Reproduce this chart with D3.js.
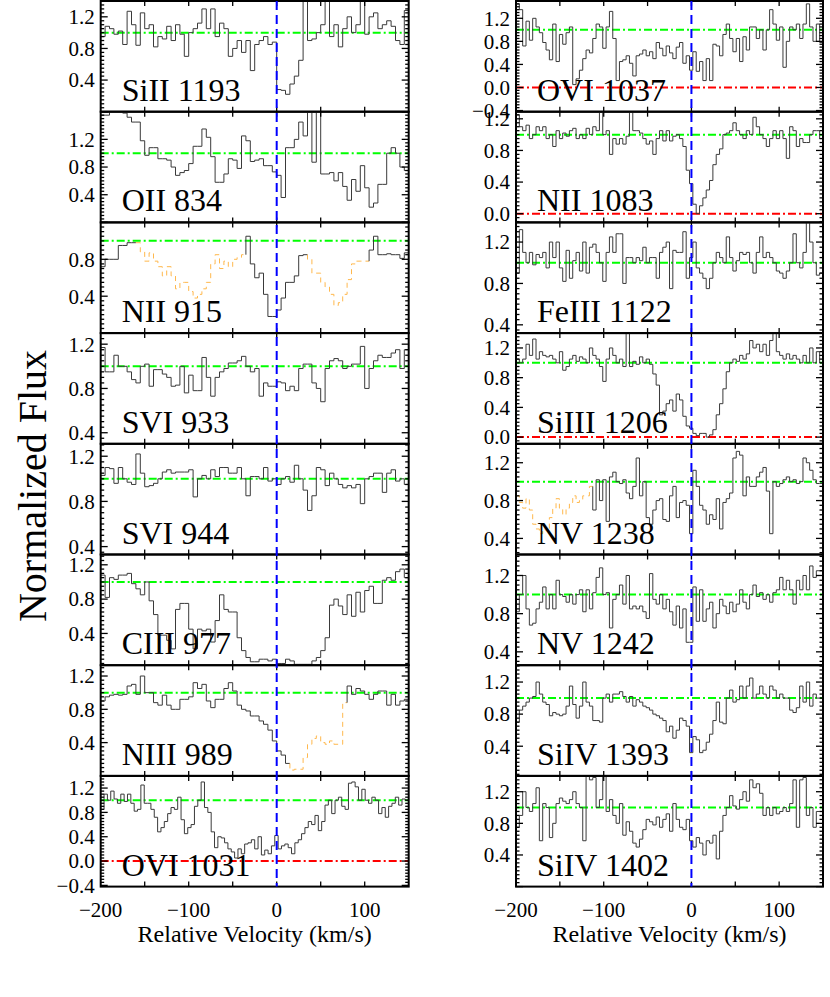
<!DOCTYPE html>
<html>
<head>
<meta charset="utf-8">
<script src="https://cdn.jsdelivr.net/npm/d3@7"></script>
<style>
  body { margin: 0; background: #fff; }
  svg text { font-family: 'Liberation Serif', 'Times New Roman', serif; fill: #000; }
</style>
</head>
<body>
<div id="chart"></div>
<script>

// ---------------------------//
//       DATA                 //
// ---------------------------//

// velocity axis (km/s)
const velDomain = [-200, 150];
const velTicks = [-150, -100, -50, 0, 50, 100];
const velLabels = [-200, -100, 0, 100];

// normalized flux, bins spread evenly over velDomain
const siII1193 = [0.95,1.08,1.05,0.98,1.02,0.85,1.27,1.1,0.84,1.25,
  1.05,1.1,0.82,0.95,0.92,1.08,0.9,1.1,0.98,0.7,
  1.0,1.05,1.12,1.3,1.05,1.3,0.95,1.12,1.05,0.7,
  0.8,0.9,0.75,0.9,0.52,0.85,0.9,0.95,0.85,0.88,
  0.28,0.27,0.22,0.35,0.45,0.65,1.45,0.9,0.92,1.0,
  1.1,1.45,0.95,1.1,0.82,1.05,1.2,1.0,1.1,1.45,
  0.98,1.2,1.25,1.05,1.1,1.15,1.08,0.9,0.85,1.28];
const oII834 = [1.55,1.55,1.6,1.6,1.6,1.58,1.52,1.45,1.45,1.18,
  0.97,1.08,1.08,0.92,0.92,0.9,0.8,0.68,0.72,0.75,
  0.85,1.1,1.1,1.35,1.23,0.95,0.58,0.58,0.7,0.92,
  0.9,0.78,1.25,1.18,0.88,0.9,0.92,0.82,0.82,0.73,
  0.68,0.36,1.08,1.08,1.2,1.45,1.25,1.65,0.87,1.65,
  0.7,0.7,0.72,0.6,0.72,0.52,0.32,0.62,0.45,0.82,
  0.5,0.22,0.28,0.55,0.55,1.0,1.08,1.0,0.8,0.75];
const nII915 = [0.72,0.8,0.8,0.8,0.95,0.95,0.98,0.98,0.98,0.88,
  0.78,0.87,0.78,0.72,0.62,0.72,0.62,0.48,0.55,0.55,
  0.45,0.38,0.42,0.48,0.55,0.75,0.85,0.7,0.78,0.72,
  0.8,0.82,0.85,1.05,0.75,0.6,0.65,0.42,0.18,0.18,
  0.25,0.38,0.55,0.55,0.62,0.84,0.85,0.8,0.65,0.65,
  0.55,0.5,0.42,0.3,0.33,0.42,0.58,0.75,0.78,0.78,
  0.78,0.9,1.05,0.85,0.85,0.86,0.85,0.85,0.81,0.87];
const sVI933 = [1.17,0.95,0.95,1.1,1.0,1.0,0.95,0.88,0.85,1.0,
  1.02,0.82,0.97,0.97,0.93,0.9,0.82,0.83,1.0,0.76,
  0.92,0.78,0.78,1.08,0.9,0.73,0.9,0.95,0.98,1.03,
  1.03,1.05,1.09,1.0,0.95,0.98,0.73,0.85,0.82,0.82,
  0.86,0.85,0.78,0.82,0.78,0.98,1.02,1.02,0.85,0.8,
  0.68,0.98,1.05,1.07,1.05,0.98,1.0,1.02,1.02,1.18,
  0.8,0.98,1.05,1.1,1.08,1.08,1.12,1.15,0.98,1.15];
const sVI944 = [1.03,1.1,1.09,0.96,1.1,1.0,0.97,0.95,1.22,1.05,
  0.93,0.94,0.96,1.0,1.06,1.08,1.05,1.06,1.06,1.06,
  1.08,0.84,1.0,1.03,1.0,1.08,1.02,1.1,1.1,1.05,
  1.05,1.1,1.0,0.85,1.02,1.02,1.0,1.1,0.98,1.0,
  0.95,1.0,1.02,0.97,1.12,1.0,0.9,0.72,0.85,1.1,
  1.08,0.94,1.05,1.0,0.95,0.92,0.94,0.92,0.95,0.78,
  1.0,1.02,1.05,1.05,0.88,1.05,1.08,0.98,1.0,0.95];
const cIII977 = [1.08,0.82,1.05,1.03,1.08,1.08,1.1,0.98,0.92,0.85,
  1.0,0.78,0.62,0.38,0.38,0.32,0.22,0.68,0.75,0.75,
  0.45,0.22,0.45,0.43,0.45,0.3,0.55,0.85,0.68,0.65,
  0.65,0.35,0.2,0.12,0.07,0.07,0.1,0.1,0.08,0.1,
  0.05,0.05,0.1,0.08,0.04,0.04,0.04,0.04,0.08,0.12,
  0.2,0.35,0.73,0.8,0.72,0.62,0.85,0.6,0.88,0.65,
  0.9,0.95,0.75,0.75,1.02,1.05,1.02,1.12,1.15,1.05];
const nIII989 = [0.9,0.95,0.97,0.98,0.97,0.98,1.08,1.1,0.98,1.2,
  1.0,1.0,0.88,0.85,0.97,0.85,0.8,0.8,0.92,0.92,
  0.95,1.12,1.05,1.1,0.9,0.82,0.92,0.92,1.05,1.12,
  1.02,0.85,0.8,0.78,0.72,0.72,0.66,0.62,0.55,0.42,
  0.3,0.25,0.15,0.07,0.08,0.08,0.22,0.38,0.45,0.48,
  0.4,0.38,0.42,0.38,0.38,0.88,1.08,0.98,1.05,1.02,
  0.98,0.92,0.98,1.02,1.02,0.85,0.98,0.85,0.9,0.92];
const oVI1031 = [0.85,1.1,1.0,1.15,1.02,0.95,1.1,0.98,1.1,0.95,
  0.82,0.85,1.25,0.95,0.95,0.85,0.72,0.48,0.55,0.65,
  0.78,0.88,0.85,1.05,0.68,0.45,0.55,0.6,0.9,1.0,
  1.3,0.88,0.8,0.48,0.22,0.4,0.38,0.3,0.2,0.15,
  0.05,0.2,0.12,0.28,0.3,0.35,0.2,0.4,0.1,0.18,
  0.12,0.25,0.42,0.2,0.25,0.28,0.22,0.12,0.3,0.35,
  0.45,0.55,0.65,0.6,0.75,0.5,0.65,0.92,1.0,0.78,
  1.0,1.05,0.9,0.85,1.28,1.3,1.22,1.0,1.18,1.0,
  0.95,1.05,1.0,0.78,0.88,0.72,0.9,0.95,1.05,0.92,
  1.02,1.0];
const oVI1037 = [1.45,1.35,0.72,1.15,0.82,1.2,1.05,0.95,0.78,0.65,
  0.48,1.1,0.45,0.92,0.75,0.95,1.05,0.05,0.15,0.3,
  0.5,0.65,0.6,0.85,1.1,1.05,0.68,1.05,1.32,0.85,
  0.12,0.45,0.48,0.55,0.42,0.2,0.55,0.58,0.65,0.55,
  0.62,0.5,0.78,0.68,0.55,0.72,0.6,0.5,0.7,0.78,
  0.42,0.55,0.3,0.62,0.28,0.45,0.12,0.5,0.12,0.75,
  0.72,0.55,0.92,1.1,0.85,0.62,0.85,0.45,0.88,0.65,
  1.05,1.05,0.85,1.0,0.65,1.0,1.35,1.1,0.82,1.05,
  0.35,0.8,1.05,1.0,1.1,0.85,1.1,1.45,1.05,0.8,
  1.1,0.78];
const nII1083 = [1.25,1.1,1.05,1.12,0.95,1.0,1.1,1.05,1.1,0.95,
  1.0,0.85,1.05,0.95,1.02,0.98,1.05,1.08,0.95,1.0,
  0.95,1.08,1.0,1.1,1.05,1.28,1.0,1.05,0.75,0.95,
  0.88,0.95,0.88,0.98,1.32,1.05,1.05,1.02,0.95,0.88,
  0.92,0.75,0.95,1.05,0.92,1.05,0.92,0.98,1.0,0.95,
  0.85,0.55,0.38,0.12,0.0,0.1,0.2,0.3,0.42,0.62,
  0.75,0.82,1.0,1.02,1.05,1.15,1.05,1.0,0.95,1.05,
  1.0,1.22,1.1,1.0,0.95,0.85,0.95,1.05,0.95,1.05,
  0.95,0.7,1.1,1.05,0.85,0.95,0.9,0.9,1.0,1.05,
  1.05,0.95];
const feIII1122 = [0.9,1.32,1.1,1.0,1.1,0.98,1.08,1.05,1.1,0.95,
  1.2,1.05,1.2,0.95,0.82,1.12,0.85,1.02,1.1,0.92,
  1.2,0.9,1.15,1.18,1.1,1.0,0.82,1.1,1.25,1.1,
  1.28,1.28,0.8,1.05,1.05,1.0,1.05,1.02,1.15,1.0,
  1.05,1.05,0.85,1.1,1.15,1.2,0.75,1.12,1.1,1.1,
  1.3,0.85,1.05,1.2,0.95,0.9,0.85,0.75,0.85,1.0,
  1.1,1.05,1.0,1.25,1.05,0.92,1.02,1.1,1.08,1.1,
  1.0,0.9,1.1,1.25,1.05,1.1,1.05,1.0,0.92,0.9,
  0.85,0.92,1.0,1.28,1.0,0.95,1.1,1.45,1.2,1.0,
  0.88,0.9];
const siIII1206 = [1.05,1.0,1.05,1.25,1.1,1.32,1.05,1.15,1.1,1.08,
  1.1,1.05,1.0,1.15,0.9,0.95,1.05,1.1,1.02,1.08,
  1.05,1.0,1.2,1.1,1.05,0.95,0.75,1.05,1.2,1.1,
  1.0,1.05,0.95,1.45,0.95,1.02,0.98,1.08,1.0,1.05,
  0.98,0.85,0.7,0.3,0.35,0.45,0.5,0.35,0.58,0.5,
  0.28,0.15,0.12,0.05,0.02,0.05,0.05,0.0,0.03,0.1,
  0.3,0.45,0.65,0.88,1.0,1.05,1.02,1.1,1.05,1.12,
  1.3,1.2,1.25,1.15,1.25,1.1,1.3,1.45,1.15,1.1,
  1.05,1.12,1.05,1.1,1.05,1.0,1.1,1.0,1.2,1.0,
  1.15,1.0];
const nV1238 = [0.85,0.78,0.72,0.82,0.7,0.55,0.5,0.45,0.5,0.48,
  0.62,0.72,0.82,0.72,0.65,0.72,0.78,0.85,0.78,0.8,
  0.85,0.85,0.95,0.7,1.02,0.8,1.02,0.58,1.05,1.1,
  1.0,0.98,1.02,0.88,0.82,0.95,1.25,0.85,1.0,0.62,
  0.55,0.7,0.8,0.82,0.6,0.58,0.85,0.95,0.62,0.78,
  0.8,0.75,0.45,1.12,0.95,0.75,0.7,0.55,0.65,0.6,
  0.82,0.5,0.78,0.82,0.88,1.25,1.32,1.28,0.85,1.05,
  0.95,0.95,1.05,1.1,1.15,0.9,0.45,1.0,0.95,0.98,
  1.02,1.05,1.0,1.02,0.98,1.0,1.25,1.2,1.12,1.02,
  0.98,0.98];
const nV1242 = [0.82,1.0,1.2,0.85,0.68,0.7,0.85,0.92,1.08,0.85,
  1.0,0.85,1.15,1.0,0.98,0.92,1.0,0.9,1.0,1.05,
  0.82,1.05,0.85,1.02,1.18,1.28,1.0,1.02,0.65,0.95,
  1.0,1.1,0.9,1.2,0.85,0.88,0.85,0.88,0.82,0.75,
  1.22,0.95,0.9,1.0,0.85,0.95,0.82,0.68,0.88,0.65,
  0.85,0.5,0.5,1.08,0.72,1.05,0.72,0.85,0.92,0.65,
  0.8,0.95,0.88,0.8,0.92,0.82,0.9,1.05,0.92,0.85,
  1.0,1.1,0.98,1.02,0.95,1.0,0.92,1.02,1.05,1.18,
  1.05,1.15,1.05,0.9,1.15,1.05,1.2,1.05,1.3,1.18,
  1.25,1.25];
const siIV1393 = [0.7,0.85,0.9,0.95,1.0,1.02,1.2,1.05,0.95,0.92,
  0.78,0.82,0.8,0.78,0.8,0.9,1.15,0.92,0.75,0.9,
  1.2,0.95,0.9,0.72,0.72,0.7,1.0,1.05,0.95,1.05,
  1.05,1.08,1.02,0.95,1.02,0.9,0.98,0.95,0.9,0.88,
  0.85,0.8,0.78,0.75,0.72,0.58,0.65,0.5,0.6,0.75,
  0.72,0.65,0.32,0.52,0.48,0.32,0.35,0.45,0.55,0.72,
  0.95,0.7,0.68,1.0,1.1,0.95,0.98,1.15,1.0,1.15,
  1.25,1.0,1.05,1.15,1.05,1.0,1.15,1.1,1.0,1.05,
  1.0,1.0,0.85,0.82,0.88,1.15,0.95,1.2,0.9,1.05,
  1.0,1.0];
const siIV1402 = [0.75,0.9,1.2,1.0,0.95,1.05,1.25,0.58,1.05,1.0,
  0.62,0.8,1.05,1.12,1.08,1.05,1.1,1.2,1.05,1.0,
  0.58,1.4,1.35,1.38,1.0,1.1,1.45,0.95,1.1,0.9,
  0.8,1.05,0.65,0.82,0.7,0.55,0.5,0.6,0.72,0.85,
  0.82,0.78,0.88,0.75,0.85,0.92,0.7,1.05,0.85,0.75,
  0.72,0.85,0.58,0.5,0.62,0.55,0.4,0.58,0.55,0.65,
  0.35,0.7,0.9,1.0,1.15,1.02,0.98,1.1,1.2,1.08,
  1.35,1.25,1.3,1.18,0.9,1.0,0.9,1.0,0.92,0.95,
  1.0,0.95,1.05,1.35,0.75,1.35,1.38,0.9,1.0,0.75,
  0.95,0.95];

// panel names, top to bottom
const leftNames = ["SiII 1193", "OII 834", "NII 915", "SVI 933", "SVI 944", "CIII 977", "NIII 989", "OVI 1031"];
const rightNames = ["OVI 1037", "NII 1083", "FeIII 1122", "SiIII 1206", "NV 1238", "NV 1242", "SiIV 1393", "SiIV 1402"];

const leftSpectra = [siII1193, oII834, nII915, sVI933, sVI944, cIII977, nIII989, oVI1031];
const rightSpectra = [oVI1037, nII1083, feIII1122, siIII1206, nV1238, nV1242, siIV1393, siIV1402];

// y ranges of each panel
const leftRanges = [[0, 1.4], [0, 1.6], [0, 1.2], [0.3, 1.3], [0.33, 1.31], [0.03, 1.32], [0, 1.33], [-0.42, 1.4]];
const rightRanges = [[-0.42, 1.5], [-0.11, 1.29], [0.32, 1.39], [-0.09, 1.4], [0.23, 1.4], [0.26, 1.42], [0.03, 1.41], [0, 1.4]];

// velocity intervals blended with other lines (drawn dashed orange)
const leftBlends = [[], [], [[-160, -35], [35, 105]], [], [], [], [[15, 80]], []];
const rightBlends = [[], [], [], [], [[-200, -112]], [], [], []];

// ---------------------------//
//       LAYOUT               //
// ---------------------------//

const width = 830, height = 997;
const serif = "'Liberation Serif', 'Times New Roman', Times, serif";
const plotTop = 1;
const panelH = 110.7;
const nPanels = 8;

const columns = [
  {x0: 100.7, x1: 408.7, names: leftNames, spectra: leftSpectra, ranges: leftRanges, blends: leftBlends},
  {x0: 516, x1: 823, names: rightNames, spectra: rightSpectra, ranges: rightRanges, blends: rightBlends}
];

const svg = d3.select("#chart")
  .append("svg")
  .attr("width", width)
  .attr("height", height)
  .attr("font-family", serif)
  .style("font-family", serif);

svg.append("rect")
  .attr("width", width)
  .attr("height", height)
  .attr("fill", "#fff");

var defs = svg.append("defs");
var fmtY = d3.format(".1f");

// turn a binned spectrum into step runs, split where blend flag changes
function stepRuns(values, blends) {
  var dv = (velDomain[1] - velDomain[0]) / values.length;
  var runs = [];
  values.forEach(function(f, i) {
    var v = velDomain[0] + dv * i;
    var mid = v + dv / 2;
    var blended = blends.some(function(r) { return mid >= r[0] && mid <= r[1]; });
    var last = runs[runs.length - 1];
    if (!last || last.blend !== blended) {
      last = {blend: blended, pts: []};
      if (i > 0) last.pts.push([v, values[i - 1]]);
      runs.push(last);
    }
    last.pts.push([v, f]);
    last.pts.push([v + dv, f]);
  });
  return runs;
}

function addText(parent) {
  return parent.append("text")
    .attr("font-family", serif)
    .style("font-family", serif)
    .attr("fill", "#000");
}

columns.forEach(function(col, ci) {

  var x = d3.scaleLinear().domain(velDomain).range([col.x0, col.x1]);

  col.names.forEach(function(name, pi) {
    var top = plotTop + pi * panelH;
    var bottom = top + panelH;
    var range = col.ranges[pi];
    var y = d3.scaleLinear().domain(range).range([bottom, top]);

    var clipId = "clip-" + ci + "-" + pi;
    defs.append("clipPath").attr("id", clipId)
      .append("rect")
      .attr("x", col.x0).attr("y", top)
      .attr("width", col.x1 - col.x0).attr("height", panelH);

    var g = svg.append("g");
    var inner = g.append("g").attr("clip-path", "url(#" + clipId + ")");

    // ---------------------------//
    //       LINE LABEL           //
    // ---------------------------//
    addText(g)
      .attr("x", col.x0 + 21)
      .attr("y", bottom - 11)
      .attr("font-size", 32)
      .text(name);

    // ---------------------------//
    //       REFERENCE LINES      //
    // ---------------------------//
    inner.append("line")
      .attr("x1", col.x0).attr("x2", col.x1)
      .attr("y1", y(1)).attr("y2", y(1))
      .attr("stroke", "#00ff00")
      .attr("stroke-width", 2)
      .style("stroke-dasharray", "8,3,2,3");

    if (range[0] < 0) {
      inner.append("line")
        .attr("x1", col.x0).attr("x2", col.x1)
        .attr("y1", y(0)).attr("y2", y(0))
        .attr("stroke", "#ff0000")
        .attr("stroke-width", 2)
        .style("stroke-dasharray", "8,3,2,3");
    }

    // ---------------------------//
    //       SPECTRUM             //
    // ---------------------------//
    var line = d3.line()
      .x(function(d) { return x(d[0]); })
      .y(function(d) { return y(d[1]); });

    stepRuns(col.spectra[pi], col.blends[pi]).forEach(function(run) {
      inner.append("path")
        .attr("d", line(run.pts))
        .attr("fill", "none")
        .attr("stroke", run.blend ? "#ffb84d" : "#3a3a3a")
        .attr("stroke-width", 1)
        .style("stroke-dasharray", run.blend ? "5,4" : null);
    });

    // ---------------------------//
    //       AXES                 //
    // ---------------------------//
    var k0 = Math.ceil(range[0] * 20 - 1e-6), k1 = Math.floor(range[1] * 20 + 1e-6);
    d3.range(k0, k1 + 1).forEach(function(k) {
      var major = k % 8 === 0;
      var len = major ? 7 : 3.5;
      var yy = y(k / 20);
      g.append("line")
        .attr("x1", col.x0).attr("x2", col.x0 + len)
        .attr("y1", yy).attr("y2", yy)
        .attr("stroke", "#000").attr("stroke-width", 1.3);
      g.append("line")
        .attr("x1", col.x1).attr("x2", col.x1 - len)
        .attr("y1", yy).attr("y2", yy)
        .attr("stroke", "#000").attr("stroke-width", 1.3);
      if (major && k / 20 > range[0] + 0.01 && k / 20 < range[1] - 0.01) {
        addText(g)
          .attr("x", col.x0 - 6)
          .attr("y", yy)
          .attr("dy", "0.35em")
          .attr("text-anchor", "end")
          .attr("font-size", 21)
          .text(fmtY(k / 20));
      }
    });

    velTicks.forEach(function(v) {
      g.append("line")
        .attr("x1", x(v)).attr("x2", x(v))
        .attr("y1", top).attr("y2", top + 5)
        .attr("stroke", "#000").attr("stroke-width", 1.3);
      g.append("line")
        .attr("x1", x(v)).attr("x2", x(v))
        .attr("y1", bottom).attr("y2", bottom - 5)
        .attr("stroke", "#000").attr("stroke-width", 1.3);
    });

    g.append("rect")
      .attr("x", col.x0).attr("y", top)
      .attr("width", col.x1 - col.x0).attr("height", panelH)
      .attr("fill", "none")
      .attr("stroke", "#000")
      .attr("stroke-width", 2);
  });

  var plotBottom = plotTop + nPanels * panelH;

  // zero velocity marker through the whole column
  svg.append("line")
    .attr("x1", x(0)).attr("x2", x(0))
    .attr("y1", plotTop).attr("y2", plotBottom)
    .attr("stroke", "#0000ff")
    .attr("stroke-width", 2)
    .style("stroke-dasharray", "9,5");

  // bottom velocity labels
  velLabels.forEach(function(v) {
    addText(svg)
      .attr("x", x(v))
      .attr("y", plotBottom + 30)
      .attr("text-anchor", "middle")
      .attr("font-size", 21)
      .text(d3.format("d")(v));
  });

  addText(svg)
    .attr("x", (col.x0 + col.x1) / 2)
    .attr("y", plotBottom + 55)
    .attr("text-anchor", "middle")
    .attr("font-size", 24)
    .text("Relative Velocity (km/s)");
});

// y axis title
addText(svg)
  .attr("transform", "translate(46," + 486 + ") rotate(-90)")
  .attr("text-anchor", "middle")
  .attr("font-size", 40)
  .text("Normalized Flux");

</script>
</body>
</html>
